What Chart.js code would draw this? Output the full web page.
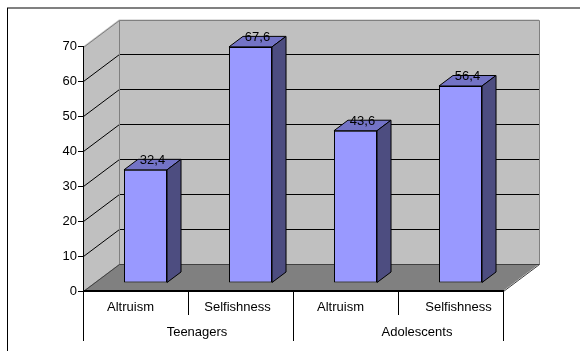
<!DOCTYPE html>
<html>
<head>
<meta charset="utf-8">
<script src="https://cdn.jsdelivr.net/npm/chart.js@4/dist/chart.umd.min.js"></script>
<style>
  html, body { margin: 0; padding: 0; background: #fff; }
  #wrap { width: 580px; height: 351px; position: relative; }
</style>
</head>
<body>
<div id="wrap"><canvas id="c" width="580" height="351"></canvas></div>
<script>
// Survey shares (%) by group
const categories = ['Altruism', 'Selfishness', 'Altruism', 'Selfishness'];
const groups = ['Teenagers', 'Adolescents'];
const groupSpan = 2;                       // categories per group
const values = [32.4, 67.6, 43.6, 56.4];
const yTicks = [0, 10, 20, 30, 40, 50, 60, 70];

const FONT_FAMILY = '"Liberation Sans", Arial, sans-serif';
const FONT = '13px ' + FONT_FAMILY;

// Oblique depth of the plot box (front plane -> back wall)
const DEPTH = { dx: 36, dy: -27 };
// Bars stand a little behind the front plane and have their own depth
const BAR_SHIFT = { dx: 10, dy: -8 };
const BAR_DEPTH = { dx: 14, dy: -10.5 };
// Small horizontal nudges of the axis captions
const catNudge = [-5, -3, -5, 8];
const groupNudge = [9, 19];

const fmt = v => v.toFixed(1).replace('.', ',');

function line(ctx, pts, color, w) {
  ctx.beginPath();
  ctx.moveTo(pts[0][0], pts[0][1]);
  for (let i = 1; i < pts.length; i++) ctx.lineTo(pts[i][0], pts[i][1]);
  ctx.strokeStyle = color;
  ctx.lineWidth = w || 1;
  ctx.stroke();
}
function poly(ctx, pts, fill) {
  ctx.beginPath();
  ctx.moveTo(pts[0][0], pts[0][1]);
  for (let i = 1; i < pts.length; i++) ctx.lineTo(pts[i][0], pts[i][1]);
  ctx.closePath();
  ctx.fillStyle = fill;
  ctx.fill();
}

const box3d = {
  id: 'box3d',
  beforeDraw(chart) {
    const { ctx, chartArea: a, scales: { y } } = chart;
    const y0 = y.getPixelForValue(yTicks[0]);
    const yTop = y.getPixelForValue(yTicks[yTicks.length - 1]);
    const L = a.left, R = a.right, dx = DEPTH.dx, dy = DEPTH.dy;
    ctx.save();
    ctx.fillStyle = '#fff';
    ctx.fillRect(0, 0, chart.width, chart.height);

    // outer frame
    ctx.fillStyle = '#808080';
    ctx.fillRect(7, 7, chart.width - 7, 2);
    ctx.fillStyle = '#000';
    ctx.fillRect(7, 8, 1, chart.height - 8);

    // back wall
    poly(ctx, [[L + dx, yTop + dy], [R + dx, yTop + dy], [R + dx, y0 + dy], [L + dx, y0 + dy]], '#c0c0c0');
    // side wall
    poly(ctx, [[L, yTop], [L + dx, yTop + dy], [L + dx, y0 + dy], [L, y0]], '#c0c0c0');
    // floor
    poly(ctx, [[L, y0], [R, y0], [R + dx, y0 + dy], [L + dx, y0 + dy]], '#808080');

    ctx.translate(0.5, 0.5);
    // gridlines on side and back walls
    yTicks.slice(1, -1).forEach(v => {
      const p = Math.round(y.getPixelForValue(v));
      line(ctx, [[L, p], [L + dx, p + dy], [R + dx, p + dy]], '#000');
    });
    // wall edges
    const t = Math.round(yTop), b = Math.round(y0);
    line(ctx, [[L, t], [L + dx, t + dy], [R + dx, t + dy], [R + dx, b + dy]], '#808080');
    line(ctx, [[L + dx, t + dy], [L + dx, b + dy]], '#808080');
    // floor edges
    line(ctx, [[L, b], [L + dx, b + dy], [R + dx, b + dy], [R, b]], '#404040');
    ctx.restore();
  },
  afterDraw(chart) {
    const { ctx, chartArea: a, scales: { x } } = chart;
    const top = Math.round(a.bottom);
    ctx.save();
    // floor front edge / category axis line
    ctx.fillStyle = '#000';
    ctx.fillRect(a.left, top - 1, a.right - a.left + 1, 2);

    // dividers between categories and groups
    const step = (a.right - a.left) / categories.length;
    for (let i = 0; i <= categories.length; i++) {
      const px = Math.round(a.left + i * step);
      const long = i % groupSpan === 0;
      ctx.fillRect(px, top, 1, long ? 50 : 24);
    }

    ctx.font = FONT;
    ctx.fillStyle = '#000';
    ctx.textAlign = 'center';
    ctx.textBaseline = 'middle';
    categories.forEach((c, i) => {
      ctx.fillText(c, x.getPixelForValue(i) + catNudge[i], top + 16);
    });
    groups.forEach((g, gi) => {
      const first = x.getPixelForValue(gi * groupSpan);
      const last = x.getPixelForValue(gi * groupSpan + groupSpan - 1);
      ctx.fillText(g, (first + last) / 2 + groupNudge[gi], top + 41);
    });
    ctx.restore();
  },
  beforeDatasetsDraw(chart) {
    chart.ctx.save();
    chart.ctx.translate(BAR_SHIFT.dx, BAR_SHIFT.dy);
  },
  afterDatasetsDraw(chart) {
    const { ctx } = chart;
    const meta = chart.getDatasetMeta(0);
    ctx.lineWidth = 1;
    ctx.strokeStyle = '#000';
    ctx.lineJoin = 'miter';
    meta.data.forEach((bar, i) => {
      const { x, y, base, width } = bar.getProps(['x', 'y', 'base', 'width'], true);
      const l = x - width / 2, r = x + width / 2;
      const bx = BAR_DEPTH.dx, by = BAR_DEPTH.dy;
      // top face
      poly(ctx, [[l, y], [r, y], [r + bx, y + by], [l + bx, y + by]], '#7373c6');
      ctx.stroke();
      // side face
      poly(ctx, [[r, y], [r + bx, y + by], [r + bx, base + by], [r, base]], '#4d4d80');
      ctx.stroke();
      // value caption
      ctx.font = FONT;
      ctx.fillStyle = '#000';
      ctx.textAlign = 'center';
      ctx.textBaseline = 'middle';
      ctx.fillText(fmt(values[i]), x + bx / 2, y - 9.5);
    });
    ctx.restore();
  }
};

new Chart(document.getElementById('c'), {
  type: 'bar',
  data: {
    labels: categories,
    datasets: [{
      data: values,
      backgroundColor: '#9999ff',
      borderColor: '#000',
      borderWidth: 1,
      borderSkipped: false,
      categoryPercentage: 0.41,
      barPercentage: 1,
      clip: false
    }]
  },
  options: {
    responsive: false,
    animation: false,
    events: [],
    layout: { padding: { left: 0, top: 46.5, right: 77, bottom: 60 } },
    plugins: { legend: { display: false }, tooltip: { enabled: false } },
    scales: {
      x: { type: 'category', display: false, offset: true },
      y: {
        min: yTicks[0],
        max: yTicks[yTicks.length - 1],
        afterFit(s) { s.width = 83; },
        afterBuildTicks(s) { s.ticks = yTicks.map(v => ({ value: v })); },
        ticks: { color: '#000', font: { family: FONT_FAMILY, size: 13 }, padding: 1 },
        grid: { drawOnChartArea: false, drawTicks: true, tickLength: 5, color: '#000' },
        border: { display: true, color: '#000' }
      }
    }
  },
  plugins: [box3d]
});
</script>
</body>
</html>
